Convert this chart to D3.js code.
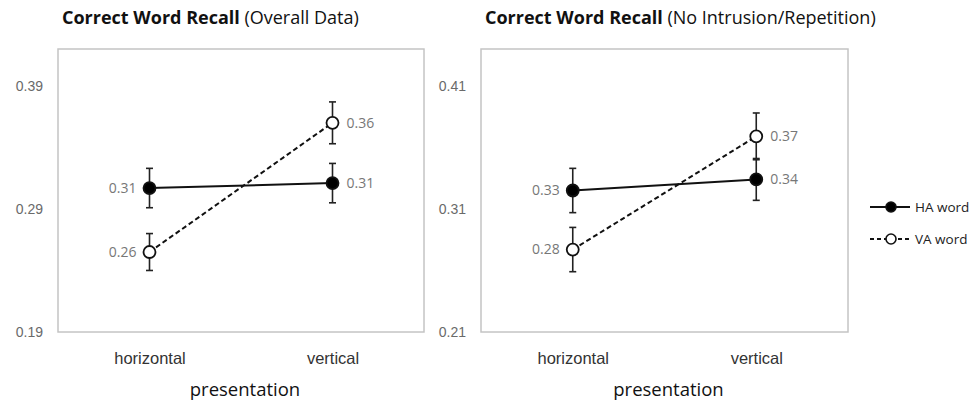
<!DOCTYPE html>
<html>
<head>
<meta charset="utf-8">
<script src="https://cdn.jsdelivr.net/npm/d3@7"></script>
<style>
  body { margin: 0; background: #fff; }
  svg { font-family: "Open Sans", "Noto Sans", sans-serif; }
</style>
</head>
<body>
<svg id="chart" width="970" height="401"></svg>
<script>
// categories on the x axis
const categories = ['horizontal', 'vertical'];
const seriesNames = ['HA word', 'VA word'];

// panel 1: overall data
const overallHA = [0.307, 0.311];
const overallVA = [0.255, 0.360];
const overallHAerr = [0.016, 0.016];
const overallVAerr = [0.015, 0.017];
const overallLabels = { HA: ['0.31', '0.31'], VA: ['0.26', '0.36'] };
const overallTicks = [0.19, 0.29, 0.39];

// panel 2: no intrusion / repetition
const noIntrHA = [0.325, 0.334];
const noIntrVA = [0.277, 0.369];
const noIntrHAerr = [0.018, 0.017];
const noIntrVAerr = [0.018, 0.019];
const noIntrLabels = { HA: ['0.33', '0.34'], VA: ['0.28', '0.37'] };
const noIntrTicks = [0.21, 0.31, 0.41];

const svg = d3.select('#chart');

const panels = [
    { bold: 'Correct Word Recall', rest: ' (Overall Data)', x0: 58, x1: 424,
      ha: overallHA, va: overallVA, haErr: overallHAerr, vaErr: overallVAerr,
      labels: overallLabels, ticks: overallTicks, domain: [0.19, 0.42] },
    { bold: 'Correct Word Recall', rest: ' (No Intrusion/Repetition)', x0: 481, x1: 848,
      ha: noIntrHA, va: noIntrVA, haErr: noIntrHAerr, vaErr: noIntrVAerr,
      labels: noIntrLabels, ticks: noIntrTicks, domain: [0.21, 0.44] }
];

const plotTop = 49, plotBottom = 332;

panels.forEach(p => {
    const g = svg.append('g');

    const x = d3.scalePoint().domain(categories).range([p.x0, p.x1]).padding(0.5);
    const y = d3.scaleLinear().domain(p.domain).range([plotBottom, plotTop]);

    // title
    const t = g.append('text')
        .attr('x', p.x0 + 4)
        .attr('y', 24)
        .style('font-size', '18px')
        .attr('fill', '#111');
    t.append('tspan').attr('font-weight', 'bold').text(p.bold);
    t.append('tspan').text(p.rest);

    // plot frame
    g.append('rect')
        .attr('x', p.x0).attr('y', plotTop)
        .attr('width', p.x1 - p.x0).attr('height', plotBottom - plotTop)
        .attr('fill', 'none')
        .attr('stroke', '#c4c4c4')
        .attr('stroke-width', 1.5);

    // y axis (labels only)
    const yAxis = d3.axisLeft(y).tickValues(p.ticks).tickSize(0).tickPadding(15)
        .tickFormat(d3.format('.2f'));
    const ya = g.append('g').attr('transform', `translate(${p.x0},0)`).call(yAxis);
    ya.select('.domain').remove();
    ya.selectAll('text').style('font-size', '14px').attr('fill', '#6a6a6a').style('font-family', 'inherit');

    // x axis (labels only)
    const xAxis = d3.axisBottom(x).tickSize(0).tickPadding(20);
    const xa = g.append('g').attr('transform', `translate(0,${plotBottom})`).call(xAxis);
    xa.select('.domain').remove();
    xa.selectAll('text').style('font-size', '16.5px').attr('fill', '#333').style('font-family', 'inherit');

    g.append('text')
        .attr('x', (p.x0 + p.x1) / 2 + 4)
        .attr('y', 396)
        .attr('text-anchor', 'middle')
        .style('font-size', '18.5px')
        .attr('fill', '#111')
        .text('presentation');

    const series = [
        { vals: p.ha, err: p.haErr, labels: p.labels.HA, fill: '#000', dash: null },
        { vals: p.va, err: p.vaErr, labels: p.labels.VA, fill: '#fff', dash: '5,3' }
    ];

    const line = d3.line().x((d, i) => x(categories[i])).y(d => y(d));

    series.forEach(s => {
        g.append('path')
            .datum(s.vals)
            .attr('d', line)
            .attr('fill', 'none')
            .attr('stroke', '#111')
            .attr('stroke-width', 2)
            .attr('stroke-dasharray', s.dash);

        // error bars
        const eb = g.append('g').selectAll('g').data(s.vals).join('g');
        eb.append('line')
            .attr('x1', (d, i) => x(categories[i])).attr('x2', (d, i) => x(categories[i]))
            .attr('y1', (d, i) => y(d + s.err[i])).attr('y2', (d, i) => y(d - s.err[i]));
        eb.append('line')
            .attr('x1', (d, i) => x(categories[i]) - 3.5).attr('x2', (d, i) => x(categories[i]) + 3.5)
            .attr('y1', (d, i) => y(d + s.err[i])).attr('y2', (d, i) => y(d + s.err[i]));
        eb.append('line')
            .attr('x1', (d, i) => x(categories[i]) - 3.5).attr('x2', (d, i) => x(categories[i]) + 3.5)
            .attr('y1', (d, i) => y(d - s.err[i])).attr('y2', (d, i) => y(d - s.err[i]));
        eb.selectAll('line').attr('stroke', '#222').attr('stroke-width', 1.6);
    });

    series.forEach(s => {
        g.append('g').selectAll('circle').data(s.vals).join('circle')
            .attr('cx', (d, i) => x(categories[i]))
            .attr('cy', d => y(d))
            .attr('r', 6)
            .attr('fill', s.fill)
            .attr('stroke', '#111')
            .attr('stroke-width', 1.8);

        g.append('g').selectAll('text').data(s.vals).join('text')
            .attr('x', (d, i) => i === 0 ? x(categories[i]) - 13 : x(categories[i]) + 14)
            .attr('y', d => y(d))
            .attr('dy', '0.35em')
            .attr('text-anchor', (d, i) => i === 0 ? 'end' : 'start')
            .style('font-size', '14px')
            .attr('fill', '#777')
            .text((d, i) => s.labels[i]);
    });
});

// legend
const legend = svg.append('g').attr('transform', 'translate(870,0)');
const legendItems = [
    { name: seriesNames[0], y: 207, fill: '#000', dash: null },
    { name: seriesNames[1], y: 239, fill: '#fff', dash: '4,3' }
];
legendItems.forEach(d => {
    legend.append('line')
        .attr('x1', 0).attr('x2', 40).attr('y1', d.y).attr('y2', d.y)
        .attr('stroke', '#111').attr('stroke-width', 2)
        .attr('stroke-dasharray', d.dash);
    legend.append('circle')
        .attr('cx', 21).attr('cy', d.y).attr('r', 5)
        .attr('fill', d.fill).attr('stroke', '#111').attr('stroke-width', 1.6);
    legend.append('text')
        .attr('x', 45).attr('y', d.y).attr('dy', '0.35em')
        .style('font-size', '13.5px').attr('fill', '#222')
        .text(d.name);
});
</script>
</body>
</html>
